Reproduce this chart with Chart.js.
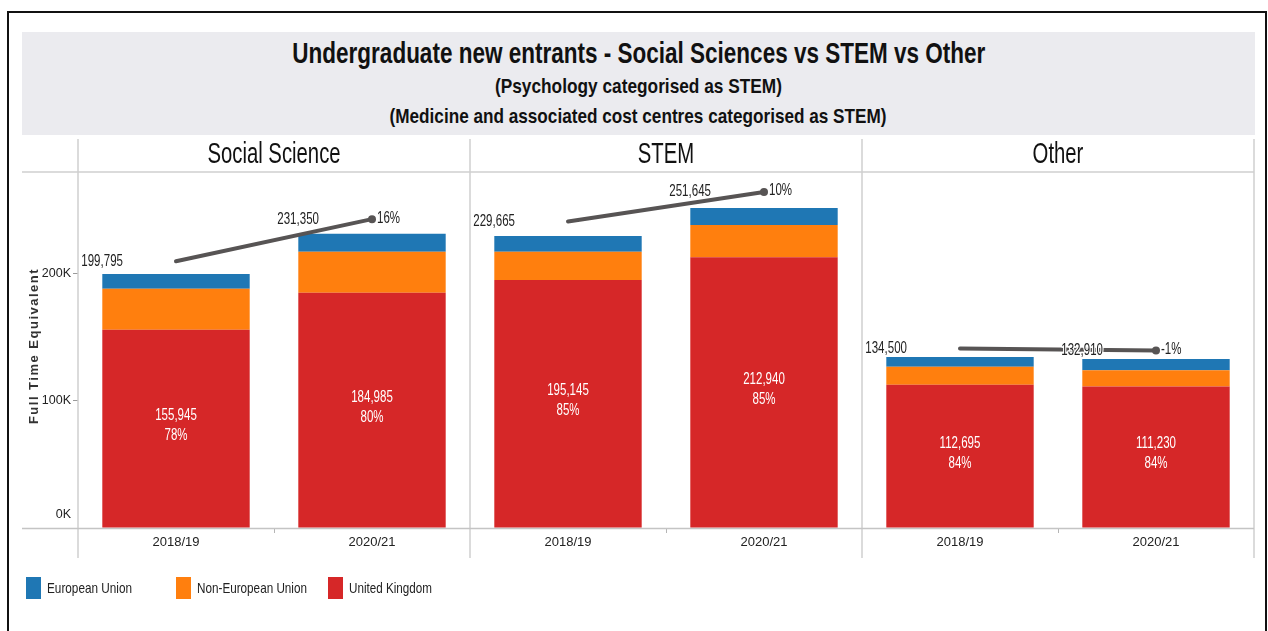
<!DOCTYPE html>
<html>
<head>
<meta charset="utf-8">
<script src="https://cdn.jsdelivr.net/npm/chart.js@4.4.1/dist/chart.umd.min.js"></script>
<style>
  html, body { margin:0; padding:0; background:#fff; width:1268px; height:631px; overflow:hidden; }
  body { position:relative; font-family:"Liberation Sans",Arial,sans-serif; color:#111; }
  #frame { position:absolute; left:7px; top:11px; width:1256px; height:700px; border:2px solid #111; border-bottom:none; box-sizing:content-box; }
  #titlebox { position:absolute; left:22px; top:32px; width:1233px; height:103px; background:#ebebef; }
  .tline { position:absolute; left:22px; width:1233px; text-align:center; white-space:nowrap; font-weight:bold; }
  .fit { display:inline-block; white-space:nowrap; }
  .tline .fit { transform-origin:50% 50%; }
  #chart { position:absolute; left:0; top:0; }
  #ytitle { position:absolute; left:33px; top:346px; transform:translate(-50%,-50%) rotate(-90deg); font-weight:bold; font-size:13px; letter-spacing:1.5px; white-space:nowrap; color:#333; }
  .leg { position:absolute; top:577px; height:22px; }
  .leg i { position:absolute; left:0; top:0; width:15px; height:22px; }
  .leg .fit { position:absolute; top:2px; font-size:15px; line-height:18px; color:#222; transform-origin:0 50%; }
</style>
</head>
<body>
<div id="frame"></div>
<div id="titlebox"></div>
<div class="tline" style="top:38px;font-size:30px;line-height:30px;"><span class="fit" data-w="693">Undergraduate new entrants - Social Sciences vs STEM vs Other</span></div>
<div class="tline" style="top:75px;font-size:21px;line-height:21px;"><span class="fit" data-w="287">(Psychology categorised as STEM)</span></div>
<div class="tline" style="top:105px;font-size:21px;line-height:21px;"><span class="fit" data-w="497">(Medicine and associated cost centres categorised as STEM)</span></div>
<canvas id="chart" width="1268" height="631"></canvas>
<div id="ytitle">Full Time Equivalent</div>
<div id="legend"></div>
<script>
// ---------- data ----------
const categories = ['2018/19', '2020/21', '2018/19', '2020/21', '2018/19', '2020/21'];
const panelNames = ['Social Science', 'STEM', 'Other'];
const ukValues = [155945, 184985, 195145, 212940, 112695, 111230];
const nonEuValues = [32150, 32365, 22120, 25315, 14185, 12940];
const euValues = [11700, 14000, 12400, 13390, 7620, 8740];
const totalValues = [199795, 231350, 229665, 251645, 134500, 132910];
const yTickValues = [0, 100000, 200000];
const yTickLabels = ['0K', '100K', '200K'];
const seriesNames = ['European Union', 'Non-European Union', 'United Kingdom'];
const seriesColors = ['#1f77b4', '#ff7f0e', '#d62728'];

// ---------- styling ----------
const FONT = '"Liberation Sans",Arial,sans-serif';
const LINE_COLOR = '#575454';
const SEP_COLOR = '#cfcfcf';

// legend
const legendEl = document.getElementById('legend');
const legX = [26, 176, 328];
const legW = [85, 110, 83];
seriesNames.forEach((n, i) => {
  const d = document.createElement('div');
  d.className = 'leg';
  d.style.left = legX[i] + 'px';
  d.innerHTML = '<i style="background:' + seriesColors[i] + '"></i><span class="fit" data-w="' + legW[i] + '" style="left:21px">' + n + '</span>';
  legendEl.appendChild(d);
});

// squeeze text blocks to the condensed widths of the original
document.querySelectorAll('.fit').forEach(s => {
  const w = s.getBoundingClientRect().width;
  s.style.transform = 'scaleX(' + (+s.dataset.w / w).toFixed(4) + ')';
});

function sqText(ctx, text, x, y, align, sx, halo) {
  ctx.save();
  ctx.translate(x, y);
  ctx.scale(sx, 1);
  ctx.textAlign = align;
  ctx.textBaseline = 'middle';
  if (halo) {
    ctx.lineJoin = 'round';
    ctx.strokeStyle = halo;
    ctx.lineWidth = 3;
    ctx.strokeText(text, 0, 0);
  }
  ctx.fillText(text, 0, 0);
  ctx.restore();
}
const fmt = v => v.toLocaleString('en-US');

// ---------- plugins ----------
const framePlugin = {
  id: 'panelFrame',
  beforeDatasetsDraw(chart) {
    const { ctx, chartArea, scales: { x, y } } = chart;
    const step = x.getPixelForValue(1) - x.getPixelForValue(0);
    ctx.save();
    ctx.strokeStyle = SEP_COLOR;
    ctx.lineWidth = 1.5;
    for (let p = 0; p <= panelNames.length; p++) {
      const bx = x.getPixelForValue(p * 2) - step / 2;
      ctx.beginPath();
      ctx.moveTo(bx, 139);
      ctx.lineTo(bx, 558);
      ctx.stroke();
    }
    ctx.beginPath();
    ctx.moveTo(22, chartArea.top);
    ctx.lineTo(chartArea.right, chartArea.top);
    ctx.stroke();
    ctx.strokeStyle = '#c4c4c4';
    ctx.beginPath();
    const by = y.getPixelForValue(0) + 0.5;
    ctx.moveTo(22, by);
    ctx.lineTo(chartArea.right, by);
    ctx.stroke();
    ctx.fillStyle = '#111';
    ctx.font = '29px ' + FONT;
    panelNames.forEach((n, p) => {
      const cx = (x.getPixelForValue(p * 2) + x.getPixelForValue(p * 2 + 1)) / 2;
      sqText(ctx, n, cx, 155, 'center', 0.70);
    });
    ctx.restore();
  }
};

const labelPlugin = {
  id: 'valueLabels',
  afterDatasetsDraw(chart) {
    const { ctx } = chart;
    const ukMeta = chart.getDatasetMeta(0);
    ctx.save();
    ctx.fillStyle = '#fff';
    ctx.font = '16px ' + FONT;
    ukMeta.data.forEach((bar, i) => {
      const cy = (bar.y + bar.base) / 2 - 3;
      const pct = Math.round(ukValues[i] / totalValues[i] * 100) + '%';
      sqText(ctx, fmt(ukValues[i]), bar.x, cy - 10, 'center', 0.72);
      sqText(ctx, pct, bar.x, cy + 10, 'center', 0.72);
    });
    ctx.fillStyle = '#222';
    panelNames.forEach((p, pi) => {
      const meta = chart.getDatasetMeta(3 + pi);
      const i0 = pi * 2, i1 = pi * 2 + 1;
      const p1 = meta.data[i1];
      [i0, i1].forEach(i => {
        const bar = ukMeta.data[i];
        const left = bar.x - bar.width / 2;
        sqText(ctx, fmt(totalValues[i]), left - 21, meta.data[i].y, 'left', 0.72, '#fff');
      });
      const chg = Math.round((totalValues[i1] - totalValues[i0]) / totalValues[i0] * 100) + '%';
      sqText(ctx, chg, p1.x + 5, p1.y - 1, 'left', 0.72);
    });
    ctx.restore();
  }
};

// ---------- datasets ----------
const barSets = [
  { label: seriesNames[2], data: ukValues, backgroundColor: seriesColors[2] },
  { label: seriesNames[1], data: nonEuValues, backgroundColor: seriesColors[1] },
  { label: seriesNames[0], data: euValues, backgroundColor: seriesColors[0] }
].map(d => Object.assign(d, {
  type: 'bar', stack: 'fte', order: 2, borderWidth: 0,
  barPercentage: 0.752, categoryPercentage: 1.0, yAxisID: 'y'
}));

const lineSets = panelNames.map((p, pi) => ({
  type: 'line',
  label: 'Total ' + p,
  yAxisID: 'y2',
  order: 0,
  data: categories.map((c, i) => (Math.floor(i / 2) === pi ? totalValues[i] : null)),
  borderColor: LINE_COLOR,
  backgroundColor: LINE_COLOR,
  borderWidth: 4,
  borderCapStyle: 'round',
  tension: 0,
  spanGaps: false,
  pointRadius: ctx => (ctx.dataIndex % 2 === 1 ? 4 : 0),
  pointHoverRadius: ctx => (ctx.dataIndex % 2 === 1 ? 4 : 0),
  pointBorderWidth: 0,
  pointBackgroundColor: LINE_COLOR
}));

new Chart(document.getElementById('chart'), {
  data: { labels: categories, datasets: [...barSets, ...lineSets] },
  options: {
    responsive: false,
    animation: false,
    devicePixelRatio: 1,
    layout: { padding: { top: 172, left: 0, right: 14, bottom: 73 } },
    plugins: { legend: { display: false }, tooltip: { enabled: false } },
    scales: {
      x: {
        stacked: true,
        offset: true,
        border: { display: false },
        grid: {
          offset: true,
          drawOnChartArea: false,
          drawTicks: true,
          tickLength: 5,
          lineWidth: 1,
          color: ctx => (ctx.index % 2 === 1 ? '#b5b5b5' : 'rgba(0,0,0,0)')
        },
        ticks: { font: { family: FONT, size: 13 }, color: '#222', padding: 2, maxRotation: 0, autoSkip: false },
        afterFit: s => { s.height = 30; }
      },
      y: {
        stacked: true,
        min: 0,
        max: 280000,
        border: { display: false },
        afterBuildTicks: s => { s.ticks = yTickValues.map(v => ({ value: v })); },
        grid: {
          drawOnChartArea: false,
          tickLength: 5,
          color: ctx => (ctx.tick && ctx.tick.value === 0 ? 'rgba(0,0,0,0)' : '#9a9a9a')
        },
        ticks: {
          font: { family: FONT, size: 12.5, lineHeight: 1.04 },
          color: '#222',
          padding: 2,
          callback: v => {
            const l = yTickLabels[yTickValues.indexOf(v)];
            return v === 0 ? [l, '', ''] : l;
          }
        },
        afterFit: s => { s.width = 78; }
      },
      y2: { display: false, min: 0, max: 280000 / 1.05 }
    }
  },
  plugins: [framePlugin, labelPlugin]
});
</script>
</body>
</html>
